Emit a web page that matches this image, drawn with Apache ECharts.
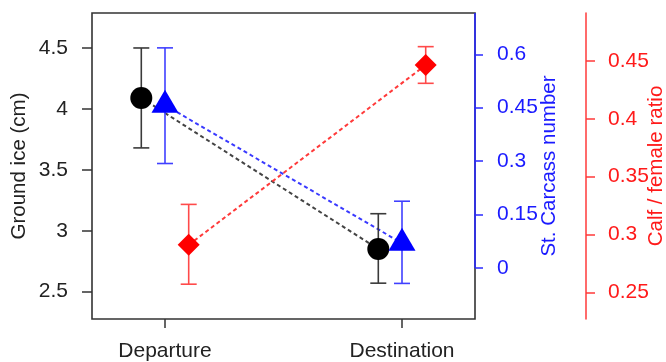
<!DOCTYPE html>
<html>
<head>
<meta charset="utf-8">
<script src="https://cdn.jsdelivr.net/npm/echarts@6/dist/echarts.min.js"></script>
<style>html,body{margin:0;padding:0;background:#fff}#c{width:666px;height:362px}</style>
</head>
<body>
<div id="c"></div>
<script>
// ---- data ----
const categories = ['Departure', 'Destination'];
const categoryPos = [1, 2];
const groundIce = [4.09, 2.85];
const groundIceLow = [3.68, 2.57];
const groundIceHigh = [4.50, 3.14];
const carcass = [0.457, 0.069];
const carcassLow = [0.293, -0.044];
const carcassHigh = [0.618, 0.187];
const calfRatio = [0.291, 0.4465];
const calfRatioLow = [0.257, 0.4307];
const calfRatioHigh = [0.326, 0.4624];
const groundIceTicks = [2.5, 3, 3.5, 4, 4.5];
const carcassTicks = [0, 0.15, 0.3, 0.45, 0.6];
const calfTicks = [0.25, 0.3, 0.35, 0.4, 0.45];
const offsets = [-0.1, 0, 0.1];

// ---- axis ranges ----
const xMin = 0.692, xMax = 2.308;
const iceMin = 2.276, iceMax = 4.787;
const carMin = -0.144, carMax = 0.716;
const calfMin = 0.2269, calfMax = 0.4915;

const FONT = 'Liberation Sans, Arial, sans-serif';
const FS = 21;
const TFS = 20.5;

function pts(vals, off) { return vals.map((v, i) => [categoryPos[i] + off, v]); }
function errData(lo, hi, off) { return lo.map((l, i) => [categoryPos[i] + off, l, hi[i]]); }

function errSeries(lo, hi, off, yIdx, color) {
  return {
    type: 'custom', xAxisIndex: 0, yAxisIndex: yIdx, clip: false, z: 3,
    data: errData(lo, hi, off),
    renderItem: function (params, api) {
      const p1 = api.coord([api.value(0), api.value(1)]);
      const p2 = api.coord([api.value(0), api.value(2)]);
      const w = 8;
      const st = { stroke: color, lineWidth: 1.6 };
      return {
        type: 'group', children: [
          { type: 'line', shape: { x1: p1[0], y1: p1[1], x2: p2[0], y2: p2[1] }, style: st },
          { type: 'line', shape: { x1: p1[0] - w, y1: p1[1], x2: p1[0] + w, y2: p1[1] }, style: st },
          { type: 'line', shape: { x1: p2[0] - w, y1: p2[1], x2: p2[0] + w, y2: p2[1] }, style: st }
        ]
      };
    }
  };
}

function dashSeries(vals, off, yIdx, color) {
  return {
    type: 'line', xAxisIndex: 0, yAxisIndex: yIdx, data: pts(vals, off),
    showSymbol: false, symbol: 'none', z: 2, clip: false,
    lineStyle: { color: color, width: 2, type: [4, 3] }
  };
}

function markSeries(vals, off, yIdx, color, symbol, size, symOff) {
  return {
    type: 'scatter', xAxisIndex: 0, yAxisIndex: yIdx, data: pts(vals, off),
    symbol: symbol, symbolSize: size, symbolOffset: symOff || [0, 0], z: 5,
    itemStyle: { color: color, opacity: 1 }
  };
}

const chart = echarts.init(document.getElementById('c'), null, { renderer: 'canvas' });
chart.setOption({
  animation: false,
  backgroundColor: '#fff',
  textStyle: { fontFamily: FONT },
  grid: { left: 92, right: 191, top: 13, bottom: 43, show: true, borderColor: '#333', borderWidth: 1.6,
    backgroundColor: 'transparent', containLabel: false, outerBoundsMode: 'none' },
  xAxis: {
    type: 'value', min: xMin, max: xMax, position: 'bottom',
    axisLine: { show: false, onZero: false },
    splitLine: { show: false },
    axisTick: { show: true, length: 9, customValues: categoryPos, lineStyle: { color: '#333', width: 1.5 } },
    axisLabel: { customValues: categoryPos, margin: 22, fontSize: FS, fontFamily: FONT, color: '#222',
      formatter: v => categories[Math.round(v) - 1] }
  },
  yAxis: [
    {
      type: 'value', position: 'left', min: iceMin, max: iceMax,
      name: 'Ground ice (cm)', nameLocation: 'middle', nameRotate: 90, nameGap: 62, nameMoveOverlap: false,
      nameTextStyle: { fontSize: TFS, fontFamily: FONT, color: '#222' },
      axisLine: { show: false, onZero: false }, splitLine: { show: false },
      axisTick: { show: true, length: 10, customValues: groundIceTicks, lineStyle: { color: '#333', width: 1.5 } },
      axisLabel: { customValues: groundIceTicks, margin: 24, fontSize: FS, fontFamily: FONT, color: '#222' }
    },
    {
      type: 'value', position: 'right', offset: 0, min: carMin, max: carMax,
      name: 'St. Carcass number', nameLocation: 'middle', nameRotate: 90, nameGap: 64, nameMoveOverlap: false,
      nameTextStyle: { fontSize: TFS, fontFamily: FONT, color: '#1a1aff' },
      axisLine: { show: false, onZero: false }, splitLine: { show: false },
      axisTick: { show: true, length: 8, customValues: carcassTicks, lineStyle: { color: '#2a2aff', width: 1.5 } },
      axisLabel: { customValues: carcassTicks, margin: 22, fontSize: FS, fontFamily: FONT, color: '#1a1aff' }
    },
    {
      type: 'value', position: 'right', offset: 111, min: calfMin, max: calfMax,
      name: 'Calf / female ratio', nameLocation: 'middle', nameRotate: 90, nameGap: 60, nameMoveOverlap: false,
      nameTextStyle: { fontSize: TFS, fontFamily: FONT, color: '#ff1a1a' },
      axisLine: { show: true, onZero: false, lineStyle: { color: '#ff3a3a', width: 1.5 } }, splitLine: { show: false },
      axisTick: { show: true, length: 9, customValues: calfTicks, lineStyle: { color: '#ff3a3a', width: 1.5 } },
      axisLabel: { customValues: calfTicks, margin: 22, fontSize: FS, fontFamily: FONT, color: '#ff1a1a' }
    }
  ],
  series: [
    // blue axis line segment (from 0 to top)
    { type: 'line', xAxisIndex: 0, yAxisIndex: 1, data: [[xMax, carcassTicks[0]], [xMax, carMax]],
      showSymbol: false, symbol: 'none', clip: false, z: 4, lineStyle: { color: '#2a2aff', width: 1.6 } },
    dashSeries(groundIce, offsets[0], 0, '#444'),
    dashSeries(carcass, offsets[1], 1, '#3a3aff'),
    dashSeries(calfRatio, offsets[2], 2, '#ff3a3a'),
    errSeries(groundIceLow, groundIceHigh, offsets[0], 0, '#3a3a3a'),
    errSeries(carcassLow, carcassHigh, offsets[1], 1, '#4040ff'),
    errSeries(calfRatioLow, calfRatioHigh, offsets[2], 2, '#ff4a4a'),
    markSeries(groundIce, offsets[0], 0, '#000', 'circle', 22),
    markSeries(carcass, offsets[1], 1, '#0000ff', 'triangle', [27, 23], [0, -4]),
    markSeries(calfRatio, offsets[2], 2, '#ff0000', 'diamond', [22, 22])
  ]
});
</script>
</body>
</html>
